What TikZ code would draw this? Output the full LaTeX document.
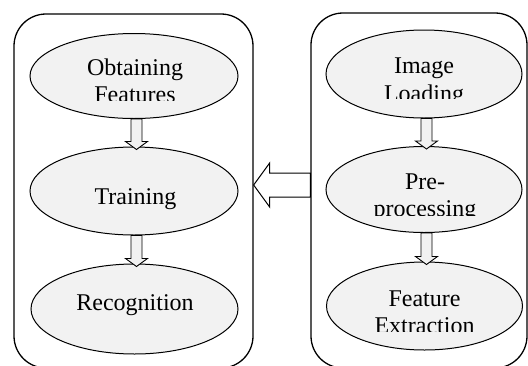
\documentclass[tikz,border=0pt]{standalone}
\usepackage{fontspec}
\setmainfont{Liberation Serif}
\usetikzlibrary{shapes.geometric,calc}
\definecolor{ellfill}{HTML}{F2F2F2}
\tikzset{
  group/.style={rectangle, draw, line width=1.3pt, rounded corners=32pt, inner sep=0pt},
  stage/.style={ellipse, draw, line width=1pt, fill=ellfill, inner sep=0pt},
  lbl/.style={font=\fontsize{24}{28}\selectfont, inner sep=0pt, anchor=base},
  smallarrow/.style={draw, line width=0.9pt, fill=ellfill, line join=miter},
  bigarrow/.style={draw, line width=1pt, fill=white, line join=miter},
}
\newcommand\blockdown[2]{%
  \draw[smallarrow] let \p1=(#1.south), \p2=(#2.north) in
    (\x1-3pt,\y1) -- (\x1+8pt,\y1) -- (\x1+8pt,\y2+5pt) -- (\x1+13.5pt,\y2+5pt)
    -- (\x1+2.5pt,\y2-3pt) -- (\x1-8.5pt,\y2+5pt) -- (\x1-3pt,\y2+5pt) -- cycle;}
\begin{document}
\begin{tikzpicture}[x=1pt,y=-1pt]
\useasboundingbox (0,0) rectangle (528,365);
\clip (0,0) rectangle (528,365);
% group boxes
\node[group, minimum width=239pt, minimum height=354pt] (left) at (133.5,191) {};
\node[group, minimum width=216pt, minimum height=355pt] (right) at (419,190.5) {};
% ellipses
\node[stage, minimum width=208pt, minimum height=85pt] (obt) at (134,76) {};
\node[stage, minimum width=208pt, minimum height=88pt] (trn) at (134,191) {};
\node[stage, minimum width=207pt, minimum height=90pt] (rec) at (134.5,309) {};
\node[stage, minimum width=196pt, minimum height=88pt] (img) at (424,74) {};
\node[stage, minimum width=196pt, minimum height=86pt] (pre) at (424,189.5) {};
\node[stage, minimum width=196pt, minimum height=88pt] (fex) at (424.5,306) {};
% labels
\node[lbl] (obt1) at (135,75) {Obtaining};
\begin{scope}
  \clip (35,60) rectangle (235,100);
  \node[lbl] (obt2) at (135,102.7) {Features};
\end{scope}
\node[lbl] (trn1) at (135.5,204.7) {Training};
\node[lbl] (rec1) at (135,310.3) {Recognition};
\node[lbl] (img1) at (424,73.3) {Image};
\begin{scope}
  \clip (330,60) rectangle (520,98.3);
  \node[lbl] (img2) at (424,101) {Loading};
\end{scope}
\node[lbl] (pre1) at (425,189) {Pre-};
\begin{scope}
  \clip (330,190) rectangle (520,215);
  \node[lbl] (pre2) at (425,216.7) {processing};
\end{scope}
\node[lbl] (fex1) at (424.5,306) {Feature};
\begin{scope}
  \clip (330,310) rectangle (520,331.7);
  \node[lbl] (fex2) at (424.5,333.7) {Extraction};
\end{scope}
% small block arrows
\blockdown{obt}{trn}
\blockdown{trn}{rec}
\blockdown{img}{pre}
\blockdown{pre}{fex}
% big block arrow
\coordinate (bt) at (left.east |- 0,185);
\draw[bigarrow] (bt) -- ($(bt)+(16,-22)$) -- ($(bt)+(16,-12)$) -- (right.west |- 0,173)
  -- (right.west |- 0,197) -- ($(bt)+(16,12)$) -- ($(bt)+(16,22)$) -- cycle;
\end{tikzpicture}
\end{document}
